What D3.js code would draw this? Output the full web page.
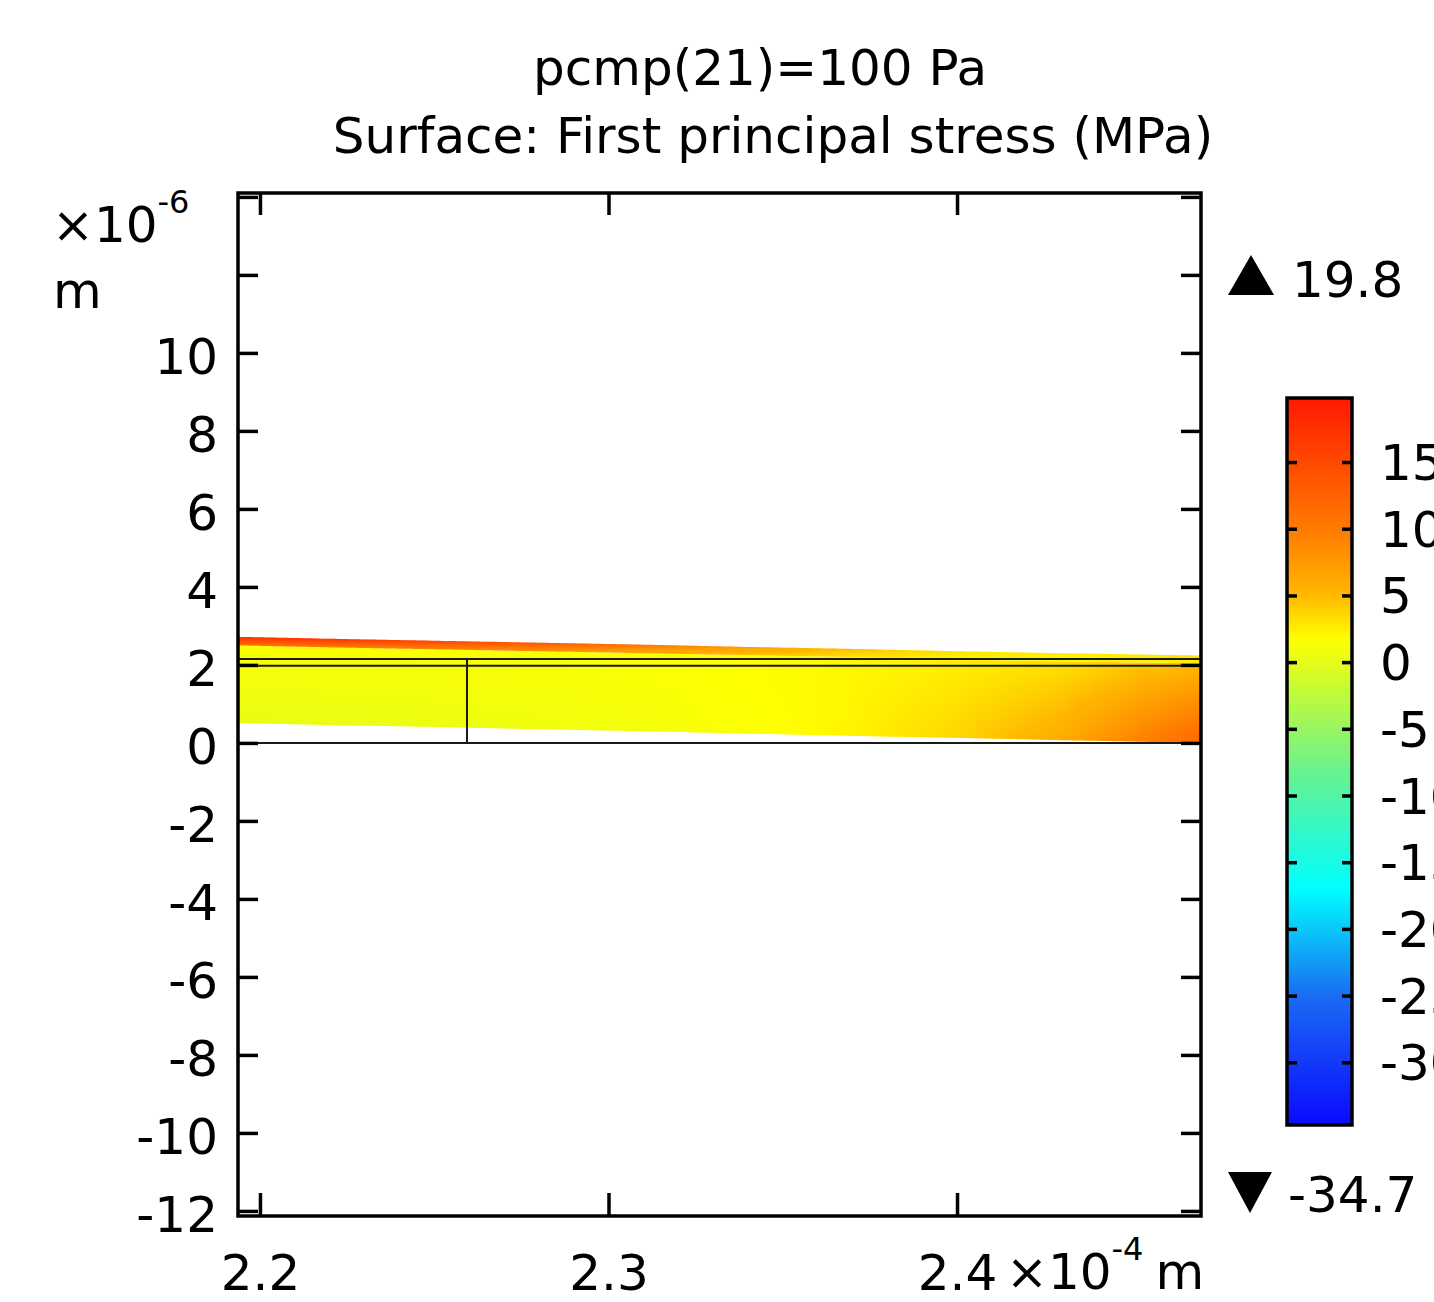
<!DOCTYPE html>
<html><head><meta charset="utf-8">
<script src="https://cdn.jsdelivr.net/npm/d3@7"></script>
<style>
body{margin:0;background:#fff}
text{font-family:'DejaVu Sans',sans-serif;fill:#000}
</style>
</head><body>
<svg id="c" width="1434" height="1302"></svg>
<script>
// ---------- data ----------
const titleLines = ['pcmp(21)=100 Pa', 'Surface: First principal stress (MPa)'];
const xDomain = [2.1937, 2.4700];          // ×1e-4 m
const yDomain = [-12.13, 14.10];           // ×1e-6 m
const xTicks = [2.2, 2.3, 2.4];
const xTickLabels = ['2.2', '2.3', '2.4'];
const yTicks = [-12, -10, -8, -6, -4, -2, 0, 2, 4, 6, 8, 10, 12, 14];
const yTickLabels = ['-12', '-10', '-8', '-6', '-4', '-2', '0', '2', '4', '6', '8', '10', '', ''];
const colorMin = -34.7, colorMax = 19.8;
const colorTicks = [15, 10, 5, 0, -5, -10, -15, -20, -25, -30];
const colorTickLabels = ['15', '10', '5', '0', '-5', '-10', '-15', '-20', '-25', '-30'];
const cmapValues = [-34.7, -25, -17, -8, 1.7, 5, 10, 19.8];
const cmapColors = ['#0a0aff', '#1a6cf2', '#00ffff', '#6af28c', '#ffff00', '#ffb800', '#ff7a00', '#ff1a00'];
// undeformed geometry edges (data coords)
const edgeX1 = [2.1937, 2.1937, 2.1937, 2.2594];
const edgeY1 = [0, 1.98, 2.15, 0];
const edgeX2 = [2.47, 2.47, 2.47, 2.2594];
const edgeY2 = [0, 1.98, 2.15, 2.15];
// deformed shape samples along x
const sampleX    = [2.1937, 2.22, 2.25, 2.28, 2.31, 2.34, 2.37, 2.40, 2.43, 2.47];
const defTop     = [2.72, 2.67, 2.62, 2.57, 2.52, 2.46, 2.41, 2.35, 2.30, 2.24];
const thinBase   = [2.50, 2.45, 2.40, 2.35, 2.30, 2.25, 2.20, 2.14, 2.09, 2.04];
const defBottom  = [0.51, 0.46, 0.41, 0.35, 0.30, 0.24, 0.18, 0.13, 0.07, 0.00];
// first principal stress (MPa)
const thinTopS   = [18, 17, 15.5, 13.5, 10.5, 7, 4.5, 3, 2.5, 3];
const thinBotS   = [11, 10, 9, 8, 6, 4.5, 3, 2.2, 2, 2.5];
const mainTopS   = [1.5, 1.5, 1.5, 1.5, 1.6, 1.8, 2.0, 2.4, 3.0, 5.0];
const mainBotS   = [0.2, 0.3, 0.5, 0.7, 1.0, 1.5, 2.2, 3.6, 6.0, 12.0];

// ---------- setup ----------
const svg = d3.select('#c');
svg.append('rect').attr('width', 1434).attr('height', 1302).attr('fill', '#fff');
const defs = svg.append('defs');
const L = 238, R = 1201, T = 193, B = 1216;
const x = d3.scaleLinear().domain(xDomain).range([L, R]);
const y = d3.scaleLinear().domain(yDomain).range([B, T]);
const color = d3.scaleLinear().domain(cmapValues).range(cmapColors).clamp(true);

defs.append('clipPath').attr('id', 'plotclip').append('rect')
  .attr('x', L).attr('y', T).attr('width', R - L).attr('height', B - T);

// ---------- titles ----------
svg.append('text').attr('x', 760).attr('y', 85).attr('text-anchor', 'middle')
  .attr('font-size', 50).text(titleLines[0]);
svg.append('text').attr('x', 773).attr('y', 153).attr('text-anchor', 'middle')
  .attr('font-size', 50).text(titleLines[1]);

// ---------- surface ----------
const plot = svg.append('g').attr('clip-path', 'url(#plotclip)');
const fi = arr => d3.scaleLinear().domain(sampleX).range(arr);
const fTop = fi(defTop), fThin = fi(thinBase), fBot = fi(defBottom);
const sTT = fi(thinTopS), sTB = fi(thinBotS), sMT = fi(mainTopS), sMB = fi(mainBotS);
const N = 240;
const p0 = x(sampleX[0]), p1 = x(sampleX[sampleX.length - 1]);
const w = (p1 - p0) / N;
let gid = 0;
function layer(fU, fL, sU, sL) {
  for (let c = 0; c < N; c++) {
    const xa = x.invert(p0 + c * w), xb = x.invert(p0 + (c + 1) * w), xm = (xa + xb) / 2;
    const id = 'g' + (gid++);
    const g = defs.append('linearGradient').attr('id', id).attr('gradientUnits', 'userSpaceOnUse')
      .attr('x1', 0).attr('x2', 0).attr('y1', y(fU(xm))).attr('y2', y(fL(xm)));
    const vu = sU(xm), vl = sL(xm);
    for (let k = 0; k <= 6; k++) {
      g.append('stop').attr('offset', k / 6).attr('stop-color', color(vu + (vl - vu) * k / 6));
    }
    const xe = x(xb) + (c < N - 1 ? 0.8 : 0);
    const pts = [[x(xa), y(fU(xa))], [xe, y(fU(xb))], [xe, y(fL(xb))], [x(xa), y(fL(xa))]];
    plot.append('path').attr('d', d3.line()(pts) + 'Z').attr('fill', `url(#${id})`);
  }
}
layer(fThin, fBot, sMT, sMB);
layer(fTop, fThin, sTT, sTB);

// geometry edges
plot.selectAll('line.edge').data(edgeX1).enter().append('line').attr('class', 'edge')
  .attr('x1', (d, i) => x(edgeX1[i])).attr('y1', (d, i) => y(edgeY1[i]))
  .attr('x2', (d, i) => x(edgeX2[i])).attr('y2', (d, i) => y(edgeY2[i]))
  .attr('stroke', '#1a1a1a').attr('stroke-width', 2);

// ---------- axes ----------
function styleAxis(g) {
  g.select('.domain').remove();
  g.selectAll('.tick line').attr('stroke', '#000').attr('stroke-width', 3.5);
  g.selectAll('.tick text').attr('font-size', 50).attr('fill', '#000')
    .attr('font-family', "'DejaVu Sans',sans-serif");
}
svg.append('g').attr('transform', `translate(${L},0)`)
  .call(d3.axisLeft(y).tickValues(yTicks).tickSize(-20).tickPadding(20)
    .tickFormat((d, i) => yTickLabels[i]))
  .call(styleAxis).selectAll('.tick text').attr('dy', '0.41em');
svg.append('g').attr('transform', `translate(${R},0)`)
  .call(d3.axisRight(y).tickValues(yTicks).tickSize(-20).tickFormat(''))
  .call(styleAxis);
svg.append('g').attr('transform', `translate(0,${T})`)
  .call(d3.axisTop(x).tickValues(xTicks).tickSize(-22).tickFormat(''))
  .call(styleAxis);
svg.append('g').attr('transform', `translate(0,${B})`)
  .call(d3.axisBottom(x).tickValues(xTicks).tickSize(-23).tickPadding(38)
    .tickFormat((d, i) => xTickLabels[i]))
  .call(styleAxis).selectAll('.tick text').attr('dy', '0.71em');

// frame
svg.append('rect').attr('x', L).attr('y', T).attr('width', R - L).attr('height', B - T)
  .attr('fill', 'none').attr('stroke', '#000').attr('stroke-width', 3.5);

// axis unit labels
const yl = svg.append('text').attr('x', 52).attr('y', 242).attr('font-size', 50);
yl.append('tspan').text('×10');
yl.append('tspan').attr('dy', -29).attr('font-size', 32).text('-6');
svg.append('text').attr('x', 53).attr('y', 308).attr('font-size', 50).text('m');
const xl = svg.append('text').attr('x', 1006).attr('y', 1289).attr('font-size', 50);
xl.append('tspan').text('×10');
xl.append('tspan').attr('dy', -29).attr('font-size', 32).text('-4');
xl.append('tspan').attr('dy', 29).attr('dx', 12).text('m');

// ---------- colorbar ----------
const cb = d3.scaleLinear().domain([colorMin, colorMax]).range([1125, 398]);
const CBL = 1287, CBR = 1352;
const cg = defs.append('linearGradient').attr('id', 'cbgrad').attr('gradientUnits', 'userSpaceOnUse')
  .attr('x1', 0).attr('x2', 0).attr('y1', cb(colorMax)).attr('y2', cb(colorMin));
for (let k = 0; k <= 80; k++) {
  const v = colorMax + (colorMin - colorMax) * k / 80;
  cg.append('stop').attr('offset', k / 80).attr('stop-color', color(v));
}
svg.append('rect').attr('x', CBL).attr('y', cb(colorMax)).attr('width', CBR - CBL)
  .attr('height', cb(colorMin) - cb(colorMax)).attr('fill', 'url(#cbgrad)')
  .attr('stroke', '#000').attr('stroke-width', 3.5);
svg.append('g').attr('transform', `translate(${CBL},0)`)
  .call(d3.axisRight(cb).tickValues(colorTicks).tickSize(10).tickFormat(''))
  .call(styleAxis);
svg.append('g').attr('transform', `translate(${CBR},0)`)
  .call(d3.axisLeft(cb).tickValues(colorTicks).tickSize(10).tickFormat(''))
  .call(styleAxis);
svg.selectAll('text.cbl').data(colorTicks).enter().append('text').attr('class', 'cbl')
  .attr('x', 1380).attr('y', d => cb(d)).attr('dy', '0.36em').attr('font-size', 50)
  .text((d, i) => colorTickLabels[i]);

// max / min markers
svg.append('path').attr('d', 'M1228,295 L1251,255 L1274,295 Z').attr('fill', '#000');
svg.append('text').attr('x', 1292).attr('y', 297).attr('font-size', 50).text(colorMax.toFixed(1));
svg.append('path').attr('d', 'M1228,1172 L1272,1172 L1250,1213 Z').attr('fill', '#000');
svg.append('text').attr('x', 1288).attr('y', 1212).attr('font-size', 50).text(colorMin.toFixed(1));
</script>
</body></html>
